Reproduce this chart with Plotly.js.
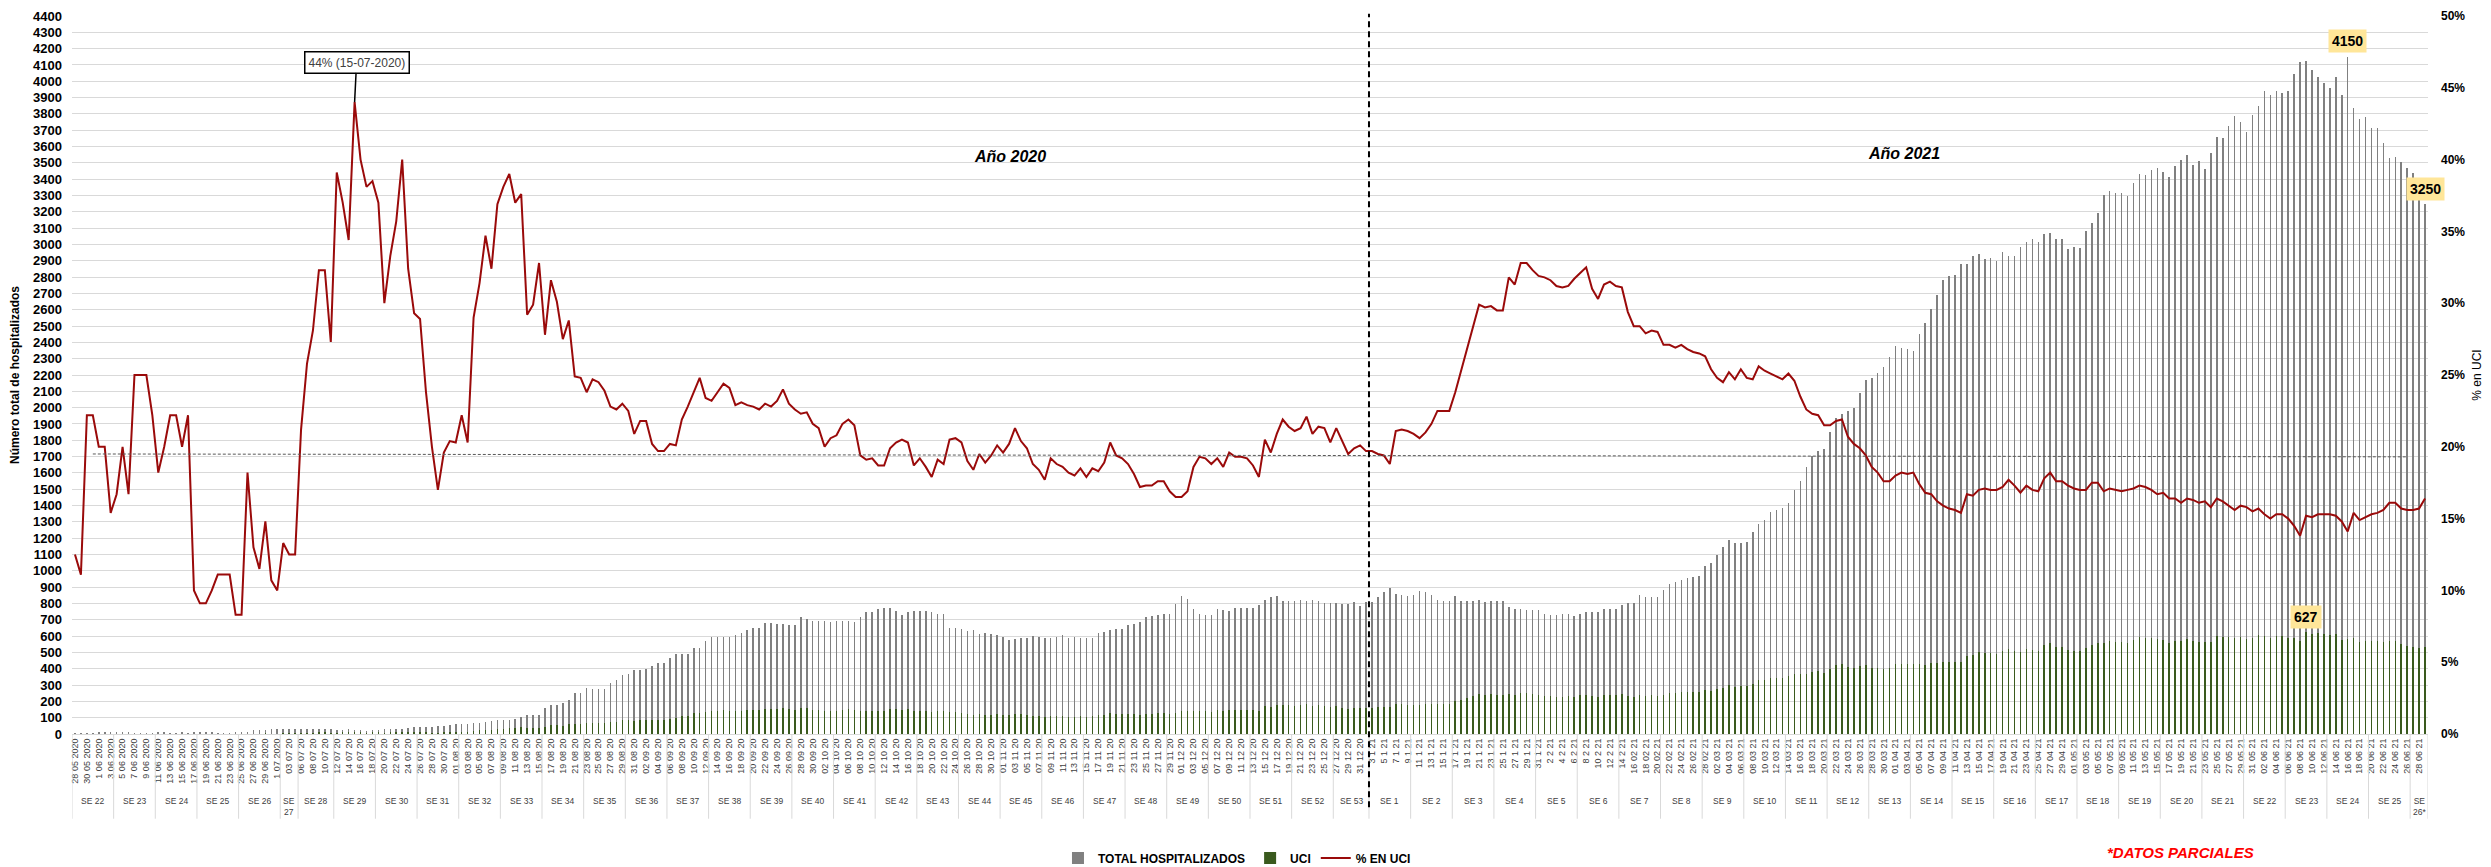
<!DOCTYPE html>
<html><head><meta charset="utf-8">
<script src="https://cdn.plot.ly/plotly-3.0.1.min.js"></script>
<style>html,body{margin:0;padding:0;background:#fff;}#chart{width:2491px;height:867px;}</style>
</head><body><div id="chart"></div>
<script>
// ---------- DATA ----------
const fechaInicio = '2020-05-28';
const fechaFin = '2021-06-29';
const fechasSinDato = ['2020-07-05', '2021-01-01'];

const semanas = ['SE 22','SE 23','SE 24','SE 25','SE 26','SE<br>27','SE 28','SE 29','SE 30','SE 31','SE 32','SE 33','SE 34','SE 35','SE 36','SE 37','SE 38','SE 39','SE 40','SE 41','SE 42','SE 43','SE 44','SE 45','SE 46','SE 47','SE 48','SE 49','SE 50','SE 51','SE 52','SE 53',
  'SE 1','SE 2','SE 3','SE 4','SE 5','SE 6','SE 7','SE 8','SE 9','SE 10','SE 11','SE 12','SE 13','SE 14','SE 15','SE 16','SE 17','SE 18','SE 19','SE 20','SE 21','SE 22','SE 23','SE 24','SE 25','SE<br>26*'];
const diasPorSemana = [7,7,7,7,7,3,6,7,7,7,7,7,7,7,7,7,7,7,7,7,7,7,7,7,7,7,7,7,7,7,7,6,
  7,7,7,7,7,7,7,7,7,7,7,7,7,7,7,7,7,7,7,7,7,7,7,7,7,3];

const totalHospitalizados = [
8,9,9,9,10,10,13,12,10,12, 8,8,8,9,11,10,9,9,10,9, 10,11,11,10,9,9,9,12,12,11,
23,26,27,28,30,30,32,32,
33,31,32,31,31,33,
23,27,32,25,25,21,26,
27,30,30,28,30,37,41,
45,42,45,47,51,54,59,
63,64,69,70,72,
78,87,87,87,95,107,116,119,119,159,
179,180,188,211,252,254,283,275,275,275,
312,333,361,367,390,390,396,419,434,
434,463,492,492,492,529,529,570,593,593,
593,593,607,622,636,651,651,680,680,674,
674,665,665,714,703,694,694,694,685,694,
694,694,685,720,746,746,766,772,772,752,
732,746,752,752,752,746,737,737,651,651,
645,630,639,613,616,613,607,593,578,584,
587,587,599,593,587,587,593,607,587,593,
587,587,587,622,628,636,642,642,665,674,
685,714,723,732,737,737,795,847,830,766,
737,729,729,766,760,752,772,775,
775,775,789,824,839,847,818,816,816,824,
818,824,818,801,801,801,795,795,807,787,
810,810,839,868,896,859,853,847,853,876,
873,853,824,818,818,844,818,816,818,824,
810,816,818,818,781,766,766,760,760,760,
737,732,732,737,737,723,737,746,746,746,
766,766,766,789,801,804,853,839,839,839,
882,920,931,946,954,963,969,1027,1047,1099,
1148,1186,1171,1171,1177,1235,1287,1310,1359,1374,
1382,1417,1495,1553,1634,1706,1735,1744,1851,1938,
1960,1981,1995,2091,2169,2183,2212,2250,2313,2377,
2363,2357,2348,2449,2516,2603,2690,2782,2805,2814,
2878,2883,2929,2941,2912,2918,2898,2955,2927,2929,
2987,3016,3036,3016,3065,3071,3036,3036,2973,2984,
2979,3085,3132,3195,3305,3325,3317,3317,3296,3378,
3433,3427,3456,3470,3441,3412,3479,3519,3548,3490,
3514,3464,3563,3658,3653,3725,3788,3751,3687,3794,
3846,3939,3918,3939,3927,3939,4043,4121,4127,4069,
4028,3991,3956,4028,3913,4150,3837,3768,3780,3716,
3716,3623,3528,3537,3508,3470,3436,3370,3250];

const uci = [
1,1,2,2,2,2,2,2,2,2, 2,2,2,2,2,2,2,2,2,2, 1,1,1,1,1,1,1,1,1,2,
3,3,4,3,3,4,4,4,
7,8,9,10,10,9,
9,10,11,11,10,8,10,
10,9,10,10,12,12,12,
13,10,9,8,10,11,12,
14,13,20,22,25,
25,32,33,34,35,40,34,36,39,44,
57,54,52,61,63,63,67,68,67,66,
71,75,83,83,82,85,86,85,85,
85,94,99,108,112,126,131,133,138,141,
145,143,139,144,146,148,147,156,155,156,
162,153,150,159,157,150,148,139,141,144,
150,152,147,140,142,143,143,144,154,153,
150,151,141,144,140,134,141,139,133,134,
131,120,118,120,116,119,122,116,117,124,
120,117,113,109,104,113,111,113,107,107,
109,105,109,114,119,129,125,123,125,122,
118,124,125,129,130,125,131,140,140,142,
142,140,137,147,141,147,149,150,
149,145,141,169,164,177,179,175,172,176,
181,172,175,171,163,171,162,155,161,158,
160,160,164,168,168,181,181,179,178,180,
183,184,185,184,184,201,207,219,231,246,
241,243,241,241,248,240,251,249,245,242,
234,231,228,229,230,229,237,242,231,226,
240,241,239,245,235,228,242,234,236,235,
239,249,250,256,256,256,257,270,266,273,
281,299,289,297,292,305,329,331,341,342,
341,356,368,365,369,380,385,375,398,422,
429,410,403,416,421,406,403,396,407,428,
430,427,427,426,423,435,436,442,440,439,
443,481,486,500,498,496,493,508,518,507,
502,522,516,510,546,559,534,534,514,510,
506,524,548,559,559,569,564,561,560,578,
594,589,588,580,578,560,571,567,582,569,
566,561,563,600,592,592,591,596,583,588,
604,603,588,603,601,591,586,569,627,614,
616,611,605,612,579,585,591,561,571,569,
572,565,568,569,551,541,536,529,533];

const pctUci = [
12.5,11.1,22.2,22.2,20.0,20.0,15.4,16.7,20.0,16.7, 25.0,25.0,25.0,22.2,18.2,20.0,22.2,22.2,20.0,22.2, 10.0,9.1,9.1,10.0,11.1,11.1,11.1,8.3,8.3,18.2,
13.0,11.5,14.8,10.7,10.0,13.3,12.5,12.5,
21.2,25.8,28.1,32.3,32.3,27.3,
39.1,37.0,34.4,44.0,40.0,38.1,38.5,
37.0,30.0,33.3,35.7,40.0,32.4,29.3,
28.9,23.8,20.0,17.0,19.6,20.4,20.3,
22.2,20.3,29.0,31.4,34.7,
32.4,36.9,38.1,39.0,37.0,37.6,29.2,29.9,32.8,27.8,
31.6,30.1,27.5,28.8,24.9,24.8,23.8,24.7,24.5,23.9,
22.8,22.6,23.0,22.5,20.9,21.8,21.8,20.2,19.7,
19.7,20.2,20.1,21.9,22.8,23.8,24.8,23.4,23.2,23.8,
24.4,24.1,22.9,23.1,22.9,22.8,22.6,23.0,22.8,23.2,
24.0,23.0,22.6,22.3,22.4,21.6,21.3,20.0,20.6,20.8,
21.6,21.9,21.5,19.4,19.1,19.2,18.7,18.7,19.9,20.3,
20.5,20.3,18.7,19.2,18.6,17.9,19.1,18.8,20.5,20.6,
20.3,19.0,18.4,19.5,18.9,19.4,20.1,19.6,20.2,21.3,
20.4,19.9,18.8,18.4,17.7,19.2,18.8,18.6,18.2,18.0,
18.5,17.9,18.5,18.3,18.9,20.3,19.4,19.2,18.8,18.1,
17.2,17.3,17.3,17.6,17.6,16.9,16.5,16.5,16.9,18.6,
19.3,19.2,18.8,19.2,18.6,19.6,19.3,19.3,
19.2,18.7,17.9,20.5,19.6,20.9,21.9,21.4,21.1,21.3,
22.1,20.9,21.4,21.3,20.3,21.3,20.4,19.5,19.9,20.1,
19.7,19.7,19.5,19.4,18.8,21.1,21.2,21.1,20.9,20.6,
21.0,21.6,22.5,22.5,22.5,23.8,25.3,26.8,28.3,29.9,
29.7,29.8,29.5,29.5,31.8,31.3,32.8,32.8,32.3,31.9,
31.8,31.6,31.2,31.1,31.2,31.7,32.1,32.5,31.0,30.3,
31.3,31.5,31.2,31.1,29.4,28.4,28.4,27.9,28.1,28.0,
27.1,27.1,26.9,27.1,26.8,26.6,26.5,26.3,25.4,24.8,
24.5,25.2,24.7,25.4,24.8,24.7,25.6,25.3,25.1,24.9,
24.7,25.1,24.6,23.5,22.6,22.3,22.2,21.5,21.5,21.8,
21.9,20.7,20.2,19.9,19.4,18.6,18.2,17.6,17.6,18.0,
18.2,18.1,18.2,17.4,16.8,16.7,16.2,15.9,15.7,15.6,
15.4,16.7,16.6,17.0,17.1,17.0,17.0,17.2,17.7,17.3,
16.8,17.3,17.0,16.9,17.8,18.2,17.6,17.6,17.3,17.1,
17.0,17.0,17.5,17.5,16.9,17.1,17.0,16.9,17.0,17.1,
17.3,17.2,17.0,16.7,16.8,16.4,16.4,16.1,16.4,16.3,
16.1,16.2,15.8,16.4,16.2,15.9,15.6,15.9,15.8,15.5,
15.7,15.3,15.0,15.3,15.3,15.0,14.5,13.8,15.2,15.1,
15.3,15.3,15.3,15.2,14.8,14.1,15.4,14.9,15.1,15.3,
15.4,15.6,16.1,16.1,15.7,15.6,15.6,15.7,16.4];

// reference (dotted) line level, % en UCI, at its first and last category
const lineaReferencia = [19.5, 19.3];
const lineaRefDesde = '31 05 2020';
const lineaRefHasta = '26 06 21';

// ---------- CATEGORIES ----------
function etiqueta(d) {
  const D = d.getUTCDate(), M = d.getUTCMonth() + 1, Y = d.getUTCFullYear();
  const p = n => String(n).padStart(2, '0');
  if (Y === 2020) {
    if (d.getTime() < Date.UTC(2020, 6, 2)) return D + ' ' + p(M) + ' 2020';
    return p(D) + ' ' + p(M) + ' 20';
  }
  if (M === 1 || (M === 2 && D <= 15)) return D + ' ' + M + ' 21';
  return p(D) + ' ' + p(M) + ' 21';
}
const fechas = [], cats = [];
for (let t = Date.parse(fechaInicio + 'T00:00:00Z'); t <= Date.parse(fechaFin + 'T00:00:00Z'); t += 86400000) {
  const d = new Date(t);
  const iso = d.toISOString().slice(0, 10);
  if (fechasSinDato.includes(iso)) continue;
  fechas.push(d);
  cats.push(etiqueta(d));
}
const tickCats = cats.filter((c, i) => i % 2 === 0);

// ---------- TRACES ----------
const FONT = 'Liberation Sans, Arial, sans-serif';
const NARROW = 'Liberation Sans Narrow, Liberation Sans, Arial, sans-serif';

const traces = [
  { type: 'bar', name: 'TOTAL HOSPITALIZADOS', x: cats, y: totalHospitalizados,
    marker: { color: '#808080', line: { width: 0 } }, width: 0.26, hoverinfo: 'skip' },
  { type: 'bar', name: 'UCI', x: cats, y: uci,
    marker: { color: '#3a5a1e', line: { width: 0 } }, width: 0.26, hoverinfo: 'skip' },
  { type: 'scatter', mode: 'lines', name: '% EN UCI', x: cats, y: pctUci, yaxis: 'y2',
    line: { color: '#9a0a0a', width: 2 }, hoverinfo: 'skip' },
  { type: 'scatter', mode: 'lines', x: [lineaRefDesde, lineaRefHasta], y: lineaReferencia, yaxis: 'y2',
    line: { color: '#595959', width: 1, dash: '3px,2px' }, showlegend: false, hoverinfo: 'skip' }
];

// ---------- WEEK LABELS / SEPARATORS ----------
const shapes = [], annotations = [];
let s = 0;
const sepBottom = -0.118;
semanas.forEach((w, k) => {
  const n = diasPorSemana[k];
  shapes.push({ type: 'line', xref: 'x', yref: 'paper', x0: s - 0.5, x1: s - 0.5, y0: 0, y1: sepBottom,
    line: { color: '#d9d9d9', width: 1 } });
  annotations.push({ xref: 'x', yref: 'paper', x: s + (n - 1) / 2, xanchor: 'center', y: -0.083, yanchor: 'top',
    text: w, showarrow: false, font: { family: FONT, size: 8.5, color: '#404040' } });
  s += n;
});
shapes.push({ type: 'line', xref: 'x', yref: 'paper', x0: s - 0.5, x1: s - 0.5, y0: 0, y1: sepBottom,
  line: { color: '#d9d9d9', width: 1 } });

// dashed year divider at the start of SE 1 (2021)
let inicio2021 = 0;
for (let k = 0; k < semanas.indexOf('SE 1'); k++) inicio2021 += diasPorSemana[k];
shapes.push({ type: 'line', xref: 'x', yref: 'paper', x0: inicio2021 - 0.5, x1: inicio2021 - 0.5,
  y0: -0.102, y1: 1.003, line: { color: '#000', width: 2, dash: '6px,4px' } });

// value call-outs
const iMaxT = totalHospitalizados.indexOf(Math.max(...totalHospitalizados));
const iLast = totalHospitalizados.length - 1;
const iMaxU = uci.indexOf(Math.max(...uci));
const iMaxP = pctUci.indexOf(Math.max(...pctUci));
const yellow = { family: FONT, size: 14, color: '#000', weight: 'bold' };
annotations.push(
  { x: cats[iMaxT], y: totalHospitalizados[iMaxT], xref: 'x', yref: 'y', yshift: 16, showarrow: false,
    xanchor: 'center', yanchor: 'middle',
    text: String(totalHospitalizados[iMaxT]), bgcolor: '#ffe699', borderpad: 3, font: yellow },
  { x: cats[iLast], y: totalHospitalizados[iLast], xref: 'x', yref: 'y', yshift: 15, showarrow: false,
    xanchor: 'center', yanchor: 'middle',
    text: String(totalHospitalizados[iLast]), bgcolor: '#ffe699', borderpad: 3, font: yellow },
  { x: cats[iMaxU], y: uci[iMaxU], xref: 'x', yref: 'y', yshift: 15, showarrow: false,
    xanchor: 'center', yanchor: 'middle',
    text: String(uci[iMaxU]), bgcolor: '#ffe699', borderpad: 3, font: yellow }
);
const fp = fechas[iMaxP];
const p2 = n => String(n).padStart(2, '0');
annotations.push({
  x: cats[iMaxP], y: pctUci[iMaxP], xref: 'x', yref: 'y2', showarrow: true, arrowhead: 0,
  arrowwidth: 1.5, arrowcolor: '#000', ax: 2, ay: -40,
  text: Math.round(pctUci[iMaxP]) + '% (' + p2(fp.getUTCDate()) + '-' + p2(fp.getUTCMonth() + 1) + '-' + fp.getUTCFullYear() + ')',
  bgcolor: '#fff', bordercolor: '#000', borderwidth: 1.5, borderpad: 3,
  font: { family: FONT, size: 12, color: '#404040' }
});
annotations.push(
  { xref: 'paper', yref: 'paper', x: 0.398, y: 0.805, xanchor: 'center', yanchor: 'middle', showarrow: false,
    text: '<b><i>Año 2020</i></b>', font: { family: FONT, size: 16, color: '#000' } },
  { xref: 'paper', yref: 'paper', x: 0.7776, y: 0.809, xanchor: 'center', yanchor: 'middle', showarrow: false,
    text: '<b><i>Año 2021</i></b>', font: { family: FONT, size: 16, color: '#000' } },
  { xref: 'paper', yref: 'paper', x: 0.895, y: -0.1657, xanchor: 'center', yanchor: 'middle', showarrow: false,
    text: '<b><i>*DATOS PARCIALES</i></b>', font: { family: NARROW, size: 15, color: '#ff0000' } }
);

const layout = {
  width: 2491, height: 867,
  margin: { l: 72, r: 63, t: 16, b: 133, autoexpand: false },
  paper_bgcolor: '#fff', plot_bgcolor: '#fff',
  barmode: 'overlay', bargap: 0,
  showlegend: true,
  legend: { orientation: 'h', x: 0.4185, xanchor: 'left', yref: 'container', y: 1 - 858 / 867, yanchor: 'middle',
    font: { family: NARROW, size: 12, color: '#000', weight: 'bold' }, itemwidth: 30, tracegroupgap: 0 },
  xaxis: {
    type: 'category', categoryorder: 'array', categoryarray: cats,
    range: [-0.5, cats.length - 0.5], automargin: false,
    tickmode: 'array', tickvals: tickCats, ticktext: tickCats,
    tickangle: -90, tickfont: { family: FONT, size: 9, color: '#404040' },
    showgrid: false, showline: true, linecolor: '#d9d9d9', linewidth: 1, ticks: '', zeroline: false
  },
  yaxis: {
    range: [0, 4400], dtick: 100, tick0: 0, gridcolor: '#d9d9d9', gridwidth: 1, zeroline: false,
    showline: false, ticks: '', ticklabelstandoff: 9, automargin: false,
    tickfont: { family: FONT, size: 13, color: '#000', weight: 'bold' },
    title: { text: 'Número total de hospitalizados', standoff: 10,
      font: { family: FONT, size: 12, color: '#000', weight: 'bold' } }
  },
  yaxis2: {
    overlaying: 'y', side: 'right', range: [0, 50], dtick: 5, tick0: 0, ticksuffix: '%',
    showgrid: false, zeroline: false, showline: false, ticks: '', ticklabelstandoff: 12, automargin: false,
    tickfont: { family: FONT, size: 12, color: '#000', weight: 'bold' },
    title: { text: '% en UCI', standoff: 8, font: { family: FONT, size: 12, color: '#000' } }
  },
  shapes: shapes,
  annotations: annotations
};

Plotly.newPlot('chart', traces, layout, { staticPlot: true, displayModeBar: false });
</script></body></html>
